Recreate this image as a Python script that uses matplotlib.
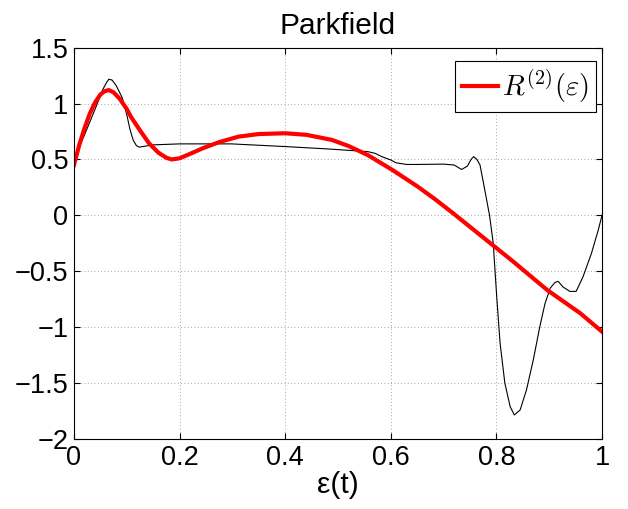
import numpy as np
import matplotlib
matplotlib.use('Agg')
import matplotlib.pyplot as plt

plt.rcParams['font.family'] = ['Liberation Sans', 'DejaVu Sans']
plt.rcParams['mathtext.fontset'] = 'cm'

# black curve (raw estimate)
eps_raw = [0.0, 0.02, 0.04, 0.055, 0.062, 0.066, 0.072, 0.08, 0.0915, 0.1,
           0.106, 0.112, 0.118, 0.123, 0.13, 0.149, 0.2, 0.298, 0.4, 0.48,
           0.556, 0.57, 0.583, 0.6, 0.61, 0.63, 0.65, 0.7, 0.72, 0.734, 0.745,
           0.752, 0.757, 0.763, 0.769, 0.778, 0.787, 0.794, 0.8006, 0.807,
           0.816, 0.826, 0.834, 0.845, 0.857, 0.87, 0.882, 0.892, 0.902,
           0.911, 0.917, 0.926, 0.939, 0.951, 0.964, 0.98, 0.993, 1.0]
r_raw = [0.50, 0.72, 0.95, 1.13, 1.19, 1.217, 1.21, 1.16, 1.05, 0.90,
         0.77, 0.674, 0.625, 0.61, 0.615, 0.63, 0.639, 0.639, 0.615, 0.594,
         0.57, 0.555, 0.525, 0.495, 0.47, 0.455, 0.455, 0.458, 0.45, 0.41, 0.44,
         0.50, 0.525, 0.50, 0.45, 0.227, 0.0, -0.25, -0.727, -1.144,
         -1.50, -1.71, -1.785, -1.74, -1.56, -1.29, -1.0, -0.79, -0.65,
         -0.60, -0.59, -0.64, -0.68, -0.68, -0.55, -0.34, -0.13, 0.0]

# red curve R^(2)(eps)
eps_fit = [0.0, 0.01, 0.02, 0.03, 0.04, 0.05, 0.058, 0.066, 0.075, 0.087, 0.1,
           0.108, 0.125, 0.142, 0.16, 0.175, 0.185, 0.2, 0.22, 0.244, 0.275,
           0.312, 0.35, 0.4, 0.44, 0.488, 0.52, 0.556, 0.603, 0.651, 0.685,
           0.719, 0.769, 0.832, 0.896, 0.959, 1.0]
r_fit = [0.45, 0.63, 0.78, 0.91, 1.01, 1.08, 1.11, 1.12, 1.10, 1.04, 0.95,
         0.88, 0.76, 0.645, 0.56, 0.515, 0.50, 0.51, 0.55, 0.60, 0.655,
         0.704, 0.727, 0.734, 0.72, 0.675, 0.62, 0.54, 0.406, 0.257, 0.14,
         0.015, -0.175, -0.414, -0.667, -0.876, -1.04]

fig = plt.figure(figsize=(6.28, 5.09), dpi=100)
ax = fig.add_axes([0.1178, 0.1375, 0.8408, 0.769])

ax.plot(eps_raw, r_raw, color='black', lw=0.8)
ax.plot(eps_fit, r_fit, color='red', lw=3.0, label=r'$R^{(2)}(\varepsilon)$')

ax.set_xlim(0, 1)
ax.set_ylim(-2, 1.5)
ax.set_xticks([0, 0.2, 0.4, 0.6, 0.8, 1])
ax.set_xticklabels(['0', '0.2', '0.4', '0.6', '0.8', '1'])
ax.set_yticks([-2, -1.5, -1, -0.5, 0, 0.5, 1, 1.5])
ax.set_yticklabels(['\u22122', '\u22121.5', '\u22121', '\u22120.5', '0', '0.5', '1', '1.5'])
ax.tick_params(direction='in', top=True, right=True, labelsize=19.5, length=4, pad=4)
ax.grid(True, color='#888888', linestyle=(0, (1, 3)), linewidth=0.6)
for s in ax.spines.values():
    s.set_linewidth(0.8)

ax.set_xlabel('\u03b5(t)', fontsize=21.5, labelpad=0)
ax.set_title('Parkfield', fontsize=21.5, pad=10)

leg = ax.legend(loc='upper right', fontsize=20.5, fancybox=False, framealpha=1,
                edgecolor='black', handlelength=1.25, handletextpad=0.15,
                borderpad=0.25, borderaxespad=0,
                bbox_to_anchor=(0.9886, 0.966))
leg.get_frame().set_linewidth(0.8)

fig.savefig('out.png', dpi=100)
